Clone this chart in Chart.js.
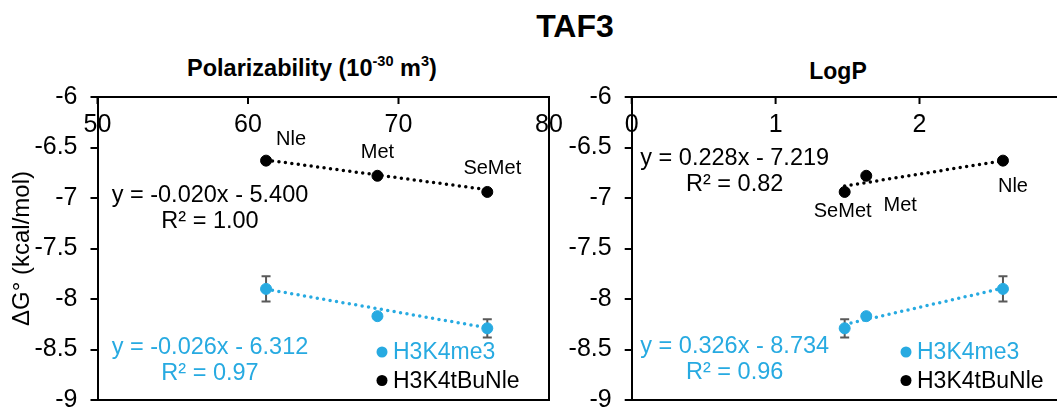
<!DOCTYPE html>
<html>
<head>
<meta charset="utf-8">
<script src="https://cdn.jsdelivr.net/npm/chart.js@4.4.0/dist/chart.umd.min.js"></script>
<style>
html, body { margin: 0; padding: 0; width: 1057px; height: 407px; overflow: hidden; background: #fff; }
body { position: relative; font-family: "Liberation Sans", Arial, sans-serif; }
.title { position: absolute; transform: translate(-50%, -50%); white-space: nowrap; font-weight: bold; color: #000; }
.title sup { font-size: 0.62em; line-height: 0; vertical-align: 0.62em; }
canvas { position: absolute; top: 0; }
</style>
</head>
<body>
<div class="title" style="left:575px; top:26px; font-size:32px;">TAF3</div>
<div class="title" style="left:312px; top:68px; font-size:23.5px;">Polarizability (10<sup>-30</sup> m<sup>3</sup>)</div>
<div class="title" style="left:838px; top:71px; font-size:23px;">LogP</div>
<canvas id="polarChart" width="600" height="430" style="left:0"></canvas>
<canvas id="logpChart" width="560" height="430" style="left:540px"></canvas>
<script>
// values (order: Nle, Met, SeMet)
const residues = ['Nle', 'Met', 'SeMet'];
const polarizability = [61.2, 68.6, 75.9];
const logP = [2.58, 1.63, 1.48];
const dgMe3 = [-7.90, -8.17, -8.29];
const dgMe3Err = [0.125, 0.02, 0.09];
const dgTBuNle = [-6.63, -6.78, -6.94];

const yTicks = [-6, -6.5, -7, -7.5, -8, -8.5, -9];
const polarTicks = [50, 60, 70, 80];
const logpTicks = [0, 1, 2, 3];

// trendlines as printed on the chart: [slope, intercept]
const polarFitTBu = [-0.020, -5.400];
const polarFitMe3 = [-0.026, -6.312];
const logpFitTBu = [0.228, -7.219];
const logpFitMe3 = [0.326, -8.734];

const polarEqTBu = ['y = -0.020x - 5.400', 'R\u00b2 = 1.00'];
const polarEqMe3 = ['y = -0.026x - 6.312', 'R\u00b2 = 0.97'];
const logpEqTBu = ['y = 0.228x - 7.219', 'R\u00b2 = 0.82'];
const logpEqMe3 = ['y = 0.326x - 8.734', 'R\u00b2 = 0.96'];

const seriesNames = ['H3K4me3', 'H3K4tBuNle'];

const BLUE = '#27aae1';
const FONT = '"Liberation Sans", Arial, sans-serif';
Chart.defaults.font.family = FONT;
Chart.defaults.color = '#000';

function points(xs, ys) {
    return xs.map((x, i) => ({ x: x, y: ys[i] }));
}

function fitLine(xs, fit) {
    const lo = Math.min(...xs);
    const hi = Math.max(...xs);
    return [{ x: lo, y: fit[0] * lo + fit[1] }, { x: hi, y: fit[0] * hi + fit[1] }];
}

function makeDecor(d) {
    return {
        id: 'decor_' + d.name,
        beforeDatasetsDraw(chart) {
            const ctx = chart.ctx;
            const xs = chart.scales.x, ys = chart.scales.y;
            ctx.save();
            ctx.strokeStyle = '#595959';
            ctx.lineWidth = 2;
            d.xv.forEach((xv, i) => {
                const px = xs.getPixelForValue(xv);
                const top = ys.getPixelForValue(dgMe3[i] + dgMe3Err[i]);
                const bot = ys.getPixelForValue(dgMe3[i] - dgMe3Err[i]);
                ctx.beginPath();
                ctx.moveTo(px, top); ctx.lineTo(px, bot);
                ctx.moveTo(px - 4.5, top); ctx.lineTo(px + 4.5, top);
                ctx.moveTo(px - 4.5, bot); ctx.lineTo(px + 4.5, bot);
                ctx.stroke();
            });
            ctx.restore();
        },
        afterDraw(chart) {
            const ctx = chart.ctx;
            const a = chart.chartArea;
            const xs = chart.scales.x, ys = chart.scales.y;
            ctx.save();

            // frame
            ctx.strokeStyle = '#000';
            ctx.lineWidth = 2;
            ctx.beginPath();
            ctx.moveTo(a.left, a.top);
            ctx.lineTo(a.right, a.top);
            ctx.lineTo(a.right, a.bottom);
            ctx.lineTo(a.left, a.bottom);
            ctx.stroke();

            // x axis sits on the top edge, ticks and labels inside
            ctx.fillStyle = '#000';
            ctx.font = '25px ' + FONT;
            ctx.textAlign = 'center';
            ctx.textBaseline = 'middle';
            d.ticks.forEach(v => {
                const px = xs.getPixelForValue(v);
                ctx.beginPath();
                ctx.moveTo(px, a.top);
                ctx.lineTo(px, a.top + 7);
                ctx.stroke();
                ctx.fillText(String(v), px, a.top + 28);
            });

            // residue labels next to the black points
            ctx.font = '20px ' + FONT;
            d.xv.forEach((xv, i) => {
                const px = xs.getPixelForValue(xv);
                const py = ys.getPixelForValue(dgTBuNle[i]);
                const off = d.labelOffsets[i];
                ctx.fillText(residues[i], px + off[0], py + off[1]);
            });

            // regression equations
            ctx.font = '23.5px ' + FONT;
            const cx = a.left + d.eqX;
            ctx.fillStyle = '#000';
            ctx.fillText(d.eqTBu[0], cx, a.top + d.eqTBuY);
            ctx.fillText(d.eqTBu[1], cx, a.top + d.eqTBuY + 26);
            ctx.fillStyle = BLUE;
            ctx.fillText(d.eqMe3[0], cx, a.top + d.eqMe3Y);
            ctx.fillText(d.eqMe3[1], cx, a.top + d.eqMe3Y + 26);

            // legend
            ctx.font = '23px ' + FONT;
            ctx.textAlign = 'left';
            const lx = a.left + d.legendX;
            [BLUE, '#000'].forEach((c, i) => {
                const ly = a.top + 255 + i * 28.5;
                ctx.fillStyle = c;
                ctx.beginPath();
                ctx.arc(lx, ly, 5.5, 0, Math.PI * 2);
                ctx.fill();
                ctx.fillText(seriesNames[i], lx + 11, ly + 1);
            });
            ctx.restore();
        }
    };
}

function buildChart(id, d) {
    const ctx = document.getElementById(id).getContext('2d');
    return new Chart(ctx, {
        type: 'scatter',
        data: {
            datasets: [
                {
                    data: points(d.xv, dgTBuNle),
                    backgroundColor: '#000', borderColor: '#000',
                    pointRadius: 5.5, order: 1
                },
                {
                    data: points(d.xv, dgMe3),
                    backgroundColor: BLUE, borderColor: BLUE,
                    pointRadius: 5.5, order: 1
                },
                {
                    data: fitLine(d.xv, d.fitTBu),
                    showLine: true, pointRadius: 0,
                    borderColor: '#000', borderWidth: 3.5,
                    borderDash: [0, 6.5], borderCapStyle: 'round', order: 2
                },
                {
                    data: fitLine(d.xv, d.fitMe3),
                    showLine: true, pointRadius: 0,
                    borderColor: BLUE, borderWidth: 3.5,
                    borderDash: [0, 6.5], borderCapStyle: 'round', order: 2
                }
            ]
        },
        options: {
            responsive: false,
            animation: false,
            devicePixelRatio: 1,
            layout: { padding: { top: 97, right: d.padRight, bottom: 30, left: 0 } },
            plugins: {
                legend: { display: false },
                tooltip: { enabled: false }
            },
            scales: {
                x: {
                    type: 'linear',
                    display: false,
                    min: d.ticks[0],
                    max: d.ticks[d.ticks.length - 1]
                },
                y: {
                    type: 'linear',
                    min: -9,
                    max: -6,
                    afterBuildTicks: (scale) => {
                        scale.ticks = yTicks.map(v => ({ value: v }));
                    },
                    afterFit: (scale) => { scale.width = d.axisWidth; },
                    ticks: {
                        font: { size: 25 },
                        color: '#000',
                        padding: 13,
                        callback: (v) => String(v)
                    },
                    grid: {
                        drawOnChartArea: false,
                        drawTicks: true,
                        tickLength: 7,
                        color: '#000',
                        lineWidth: 2
                    },
                    border: { display: true, color: '#000', width: 2 },
                    title: {
                        display: d.showTitle,
                        text: '\u0394G\u00b0 (kcal/mol)',
                        font: { size: 24 },
                        color: '#000',
                        padding: { top: 8, bottom: 0 }
                    }
                }
            }
        },
        plugins: [makeDecor(d)]
    });
}

buildChart('polarChart', {
    name: 'polar',
    xv: polarizability,
    ticks: polarTicks,
    fitTBu: polarFitTBu,
    fitMe3: polarFitMe3,
    eqTBu: polarEqTBu,
    eqMe3: polarEqMe3,
    axisWidth: 97.5,
    padRight: 51,
    showTitle: true,
    eqX: 112.5,
    eqTBuY: 99,
    eqMe3Y: 251,
    legendX: 284.5,
    labelOffsets: [[25, -21], [0, -23], [5, -23]]
});

buildChart('logpChart', {
    name: 'logp',
    xv: logP,
    ticks: logpTicks,
    fitTBu: logpFitTBu,
    fitMe3: logpFitMe3,
    eqTBu: logpEqTBu,
    eqMe3: logpEqMe3,
    axisWidth: 91.7,
    padRight: 36.6,
    showTitle: false,
    eqX: 103,
    eqTBuY: 62,
    eqMe3Y: 250,
    legendX: 274.3,
    labelOffsets: [[10, 26], [34, 30], [-2, 20]]
});
</script>
</body>
</html>
